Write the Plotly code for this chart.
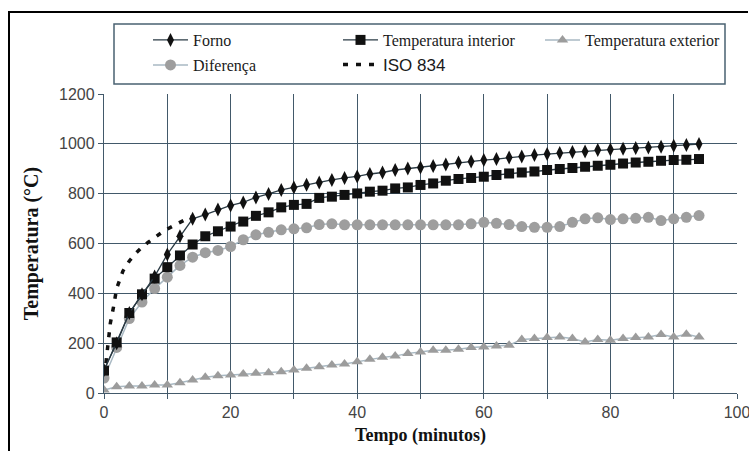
import plotly.graph_objects as go

W, H = 749, 452
L, R, T, B = 104, 12, 94, 59

tempo = [0, 2, 4, 6, 8, 10, 12, 14, 16, 18, 20, 22, 24, 26, 28, 30, 32, 34, 36, 38,
         40, 42, 44, 46, 48, 50, 52, 54, 56, 58, 60, 62, 64, 66, 68, 70, 72, 74, 76, 78,
         80, 82, 84, 86, 88, 90, 92, 94]
forno = [92, 200, 321, 396, 468, 556, 629, 699, 716, 736, 753, 765, 785, 799, 815, 825,
         836, 845, 855, 863, 869, 879, 885, 895, 901, 905, 911, 917, 925, 929, 935, 939,
         945, 949, 955, 959, 963, 967, 969, 975, 977, 980, 983, 985, 988, 992, 995, 999]
interior = [90, 203, 321, 396, 459, 505, 552, 596, 629, 649, 668, 688, 711, 725, 745, 755,
            759, 783, 788, 795, 801, 808, 812, 821, 825, 835, 841, 852, 859, 863, 868, 875,
            881, 885, 889, 895, 899, 903, 908, 912, 916, 921, 925, 928, 932, 935, 936, 939]
exterior = [12, 25, 28, 28, 32, 32, 41, 52, 63, 69, 72, 76, 79, 81, 85, 92, 99, 105, 112,
            116, 125, 135, 143, 148, 159, 165, 172, 172, 176, 183, 185, 189, 192, 215, 219,
            223, 225, 219, 205, 215, 212, 219, 223, 225, 235, 225, 236, 225]
diferenca = [60, 183, 299, 365, 419, 465, 512, 545, 563, 572, 588, 615, 635, 645, 655, 659,
             663, 676, 679, 675, 675, 675, 675, 675, 675, 675, 675, 675, 675, 679, 685, 681,
             676, 668, 665, 665, 668, 685, 699, 703, 696, 699, 701, 705, 692, 699, 705, 712]
iso_t = [0.3, 1, 1.5, 2, 3, 4, 5, 6, 7, 8, 9, 10, 11, 12, 13, 14]
iso_v = [120, 280, 345, 420, 490, 530, 560, 585, 605, 625, 642, 658, 672, 686, 698, 708]

x_tickvals = [0, 10, 20, 30, 40, 50, 60, 70, 80, 90, 100]
x_ticktext = ["0", "", "20", "", "40", "", "60", "", "80", "", "100"]
y_tickvals = [0, 200, 400, 600, 800, 1000, 1200]

GRID = "#42596a"
SERIF = "Liberation Serif, Times New Roman, serif"
SANS = "Liberation Sans, Arial, sans-serif"

PW = W - L - R
PH = H - T - B


def px2paper_x(px):
    return (px - L) / PW


def px2paper_y(py):
    return (H - B - py) / PH


fig = go.Figure()
fig.add_trace(go.Scatter(x=iso_t, y=iso_v, mode="lines", name="ISO 834", legend="legend5",
                         line=dict(color="#111111", width=3.5, dash="5px,8px")))
fig.add_trace(go.Scatter(x=tempo, y=exterior, mode="lines+markers", name="Temperatura exterior",
                         legend="legend3",
                         line=dict(color="#a9b9c3", width=1.5),
                         marker=dict(symbol="triangle-up", size=10, color="#9c9c9c")))
fig.add_trace(go.Scatter(x=tempo, y=diferenca, mode="lines+markers", name="Diferença",
                         legend="legend4",
                         line=dict(color="#a9b9c3", width=1.5),
                         marker=dict(symbol="circle", size=11, color="#9e9e9e")))
fig.add_trace(go.Scatter(x=tempo, y=interior, mode="lines+markers", name="Temperatura interior",
                         legend="legend2",
                         line=dict(color="#2a3a44", width=1.3),
                         marker=dict(symbol="square", size=10, color="#111111")))
fig.add_trace(go.Scatter(x=tempo, y=forno, mode="lines+markers", name="Forno",
                         legend="legend",
                         line=dict(color="#2a3a44", width=1.3),
                         marker=dict(symbol="diamond-tall", size=10, color="#111111")))


def leg(xpx, ypx, family, size):
    return dict(x=px2paper_x(xpx), y=px2paper_y(ypx), xref="paper", yref="paper",
                xanchor="left", yanchor="middle", bgcolor="rgba(0,0,0,0)",
                borderwidth=0, itemwidth=35,
                font=dict(family=family, size=size, color="#1a1a1a"))


fx0 = px2paper_x(9)
fx1 = px2paper_x(748)
fy0 = px2paper_y(12)
fy1 = px2paper_y(451)

fig.update_layout(
    width=W, height=H,
    margin=dict(l=L, r=R, t=T, b=B, autoexpand=False),
    paper_bgcolor="white", plot_bgcolor="white",
    showlegend=True,
    legend=leg(148, 40, SERIF, 16),
    legend2=leg(338, 40, SERIF, 16),
    legend3=leg(540, 40, SERIF, 16),
    legend4=leg(148, 65, SERIF, 16),
    legend5=leg(338, 65, SANS, 17),
    xaxis=dict(range=[0, 100], tickvals=x_tickvals, ticktext=x_ticktext,
               showgrid=True, gridcolor=GRID, gridwidth=1.3,
               showline=True, linecolor=GRID, linewidth=1.3,
               ticks="outside", ticklen=5, tickcolor=GRID,
               tickfont=dict(family=SANS, size=16, color="#444444"),
               ticklabeloverflow="allow",
               zeroline=False, automargin=False,
               title=dict(text="<b>Tempo (minutos)</b>", standoff=8,
                          font=dict(family=SERIF, size=18, color="#111111"))),
    yaxis=dict(range=[0, 1200], tickvals=y_tickvals,
               showgrid=True, gridcolor=GRID, gridwidth=1.3,
               showline=True, linecolor=GRID, linewidth=1.3,
               ticks="outside", ticklen=5, tickcolor=GRID,
               tickfont=dict(family=SANS, size=16, color="#444444"),
               zeroline=False, automargin=False,
               title=dict(text="<b>Temperatura (°C)</b>", standoff=15,
                          font=dict(family=SERIF, size=20, color="#111111"))),
    shapes=[
        dict(type="rect", xref="paper", yref="paper",
             x0=px2paper_x(114), x1=px2paper_x(725), y0=px2paper_y(84), y1=px2paper_y(24),
             line=dict(color="#4a6272", width=1.5), fillcolor="rgba(0,0,0,0)", layer="above"),
        dict(type="path", xref="paper", yref="paper",
             path=f"M {fx0} {fy1} L {fx0} {fy0} L {fx1} {fy0}",
             line=dict(color="#000000", width=2), fillcolor="rgba(0,0,0,0)"),
    ],
)

fig.write_html("out.html")
